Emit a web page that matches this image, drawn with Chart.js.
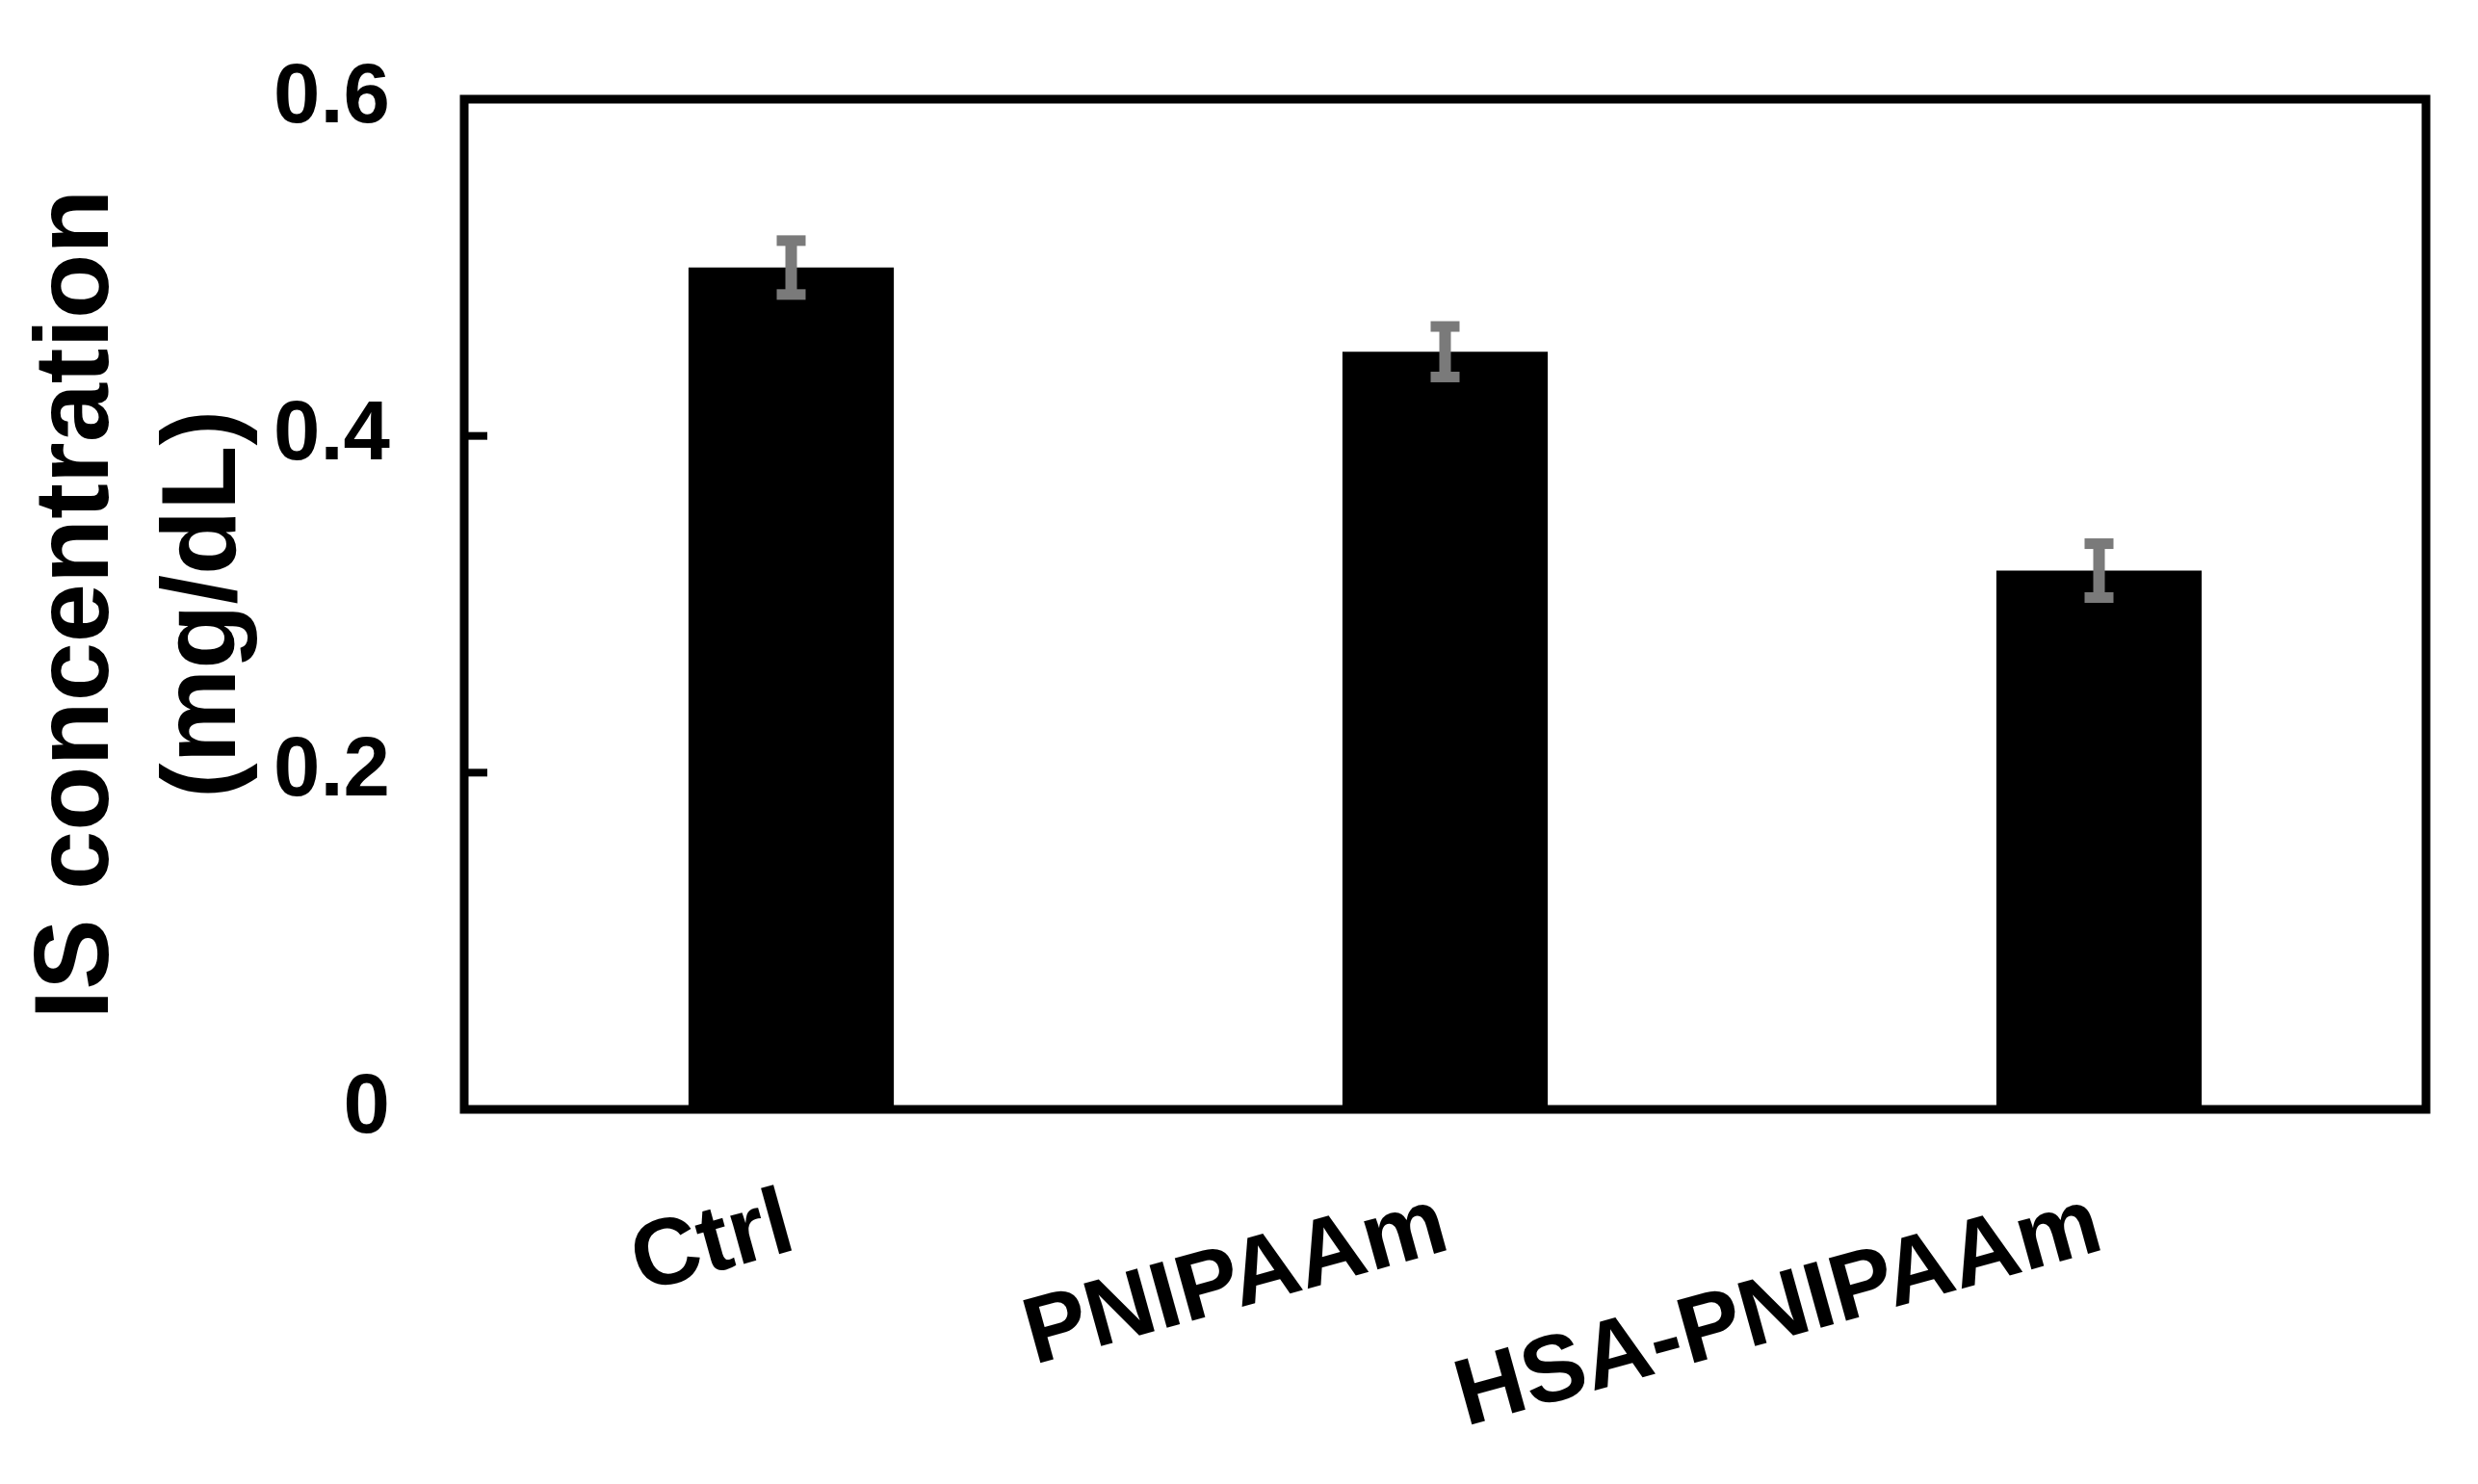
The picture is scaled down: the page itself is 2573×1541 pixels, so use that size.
<!DOCTYPE html>
<html>
<head>
<meta charset="utf-8">
<script src="https://cdn.jsdelivr.net/npm/chart.js@4.4.1/dist/chart.umd.min.js"></script>
<style>
  html, body { margin: 0; padding: 0; background: #ffffff; }
  #wrap { width: 2573px; height: 1541px; }
</style>
</head>
<body>
<div id="wrap"><canvas id="c" width="2573" height="1541"></canvas></div>
<script>
// ---- data ----
const categories = ['Ctrl', 'PNIPAAm', 'HSA-PNIPAAm'];
const values = [0.50, 0.45, 0.32];
const errors = [0.016, 0.015, 0.016];
const yTicks = [0, 0.2, 0.4, 0.6];
const yTitle = ['IS concentration', '(mg/dL)'];

const FONT = '"Liberation Sans", Arial, sans-serif';

const framePlugin = {
  id: 'frame',
  afterDatasetsDraw(chart) {
    const {ctx, chartArea: a, scales} = chart;
    const y = scales.y;
    ctx.save();
    // error bars
    const meta = chart.getDatasetMeta(0);
    ctx.fillStyle = '#7a7a7a';
    meta.data.forEach((bar, i) => {
      const cx = bar.x;
      const yHi = y.getPixelForValue(values[i] + errors[i]);
      const yLo = y.getPixelForValue(values[i] - errors[i]);
      const capW = 30, capH = 11, stemW = 12;
      ctx.fillRect(cx - stemW / 2, yHi, stemW, yLo - yHi);
      ctx.fillRect(cx - capW / 2, yHi - capH / 2, capW, capH);
      ctx.fillRect(cx - capW / 2, yLo - capH / 2, capW, capH);
    });
    // inside ticks
    ctx.strokeStyle = '#000';
    ctx.lineWidth = 8;
    yTicks.forEach(v => {
      const py = y.getPixelForValue(v);
      ctx.beginPath();
      ctx.moveTo(a.left, py);
      ctx.lineTo(a.left + 24, py);
      ctx.stroke();
    });
    // frame
    ctx.lineWidth = 9;
    ctx.lineJoin = 'miter';
    ctx.strokeRect(a.left, a.top, a.right - a.left, a.bottom - a.top);
    ctx.restore();
  }
};

new Chart(document.getElementById('c'), {
  type: 'bar',
  data: {
    labels: categories,
    datasets: [{
      data: values,
      backgroundColor: '#000000',
      borderWidth: 0,
      barPercentage: 0.314,
      categoryPercentage: 1.0
    }]
  },
  options: {
    responsive: false,
    animation: false,
    devicePixelRatio: 1,
    layout: { padding: { left: 0, right: 54, top: 103, bottom: 0 } },
    plugins: { legend: { display: false }, tooltip: { enabled: false }, title: { display: false } },
    scales: {
      x: {
        grid: { display: false, drawTicks: false },
        border: { display: false },
        ticks: {
          color: '#000',
          font: { family: FONT, size: 98, weight: 'bold' },
          minRotation: 15.5,
          maxRotation: 15.5,
          autoSkip: false,
          padding: 62
        },
        afterFit(scale) { scale.height = 389; scale.paddingLeft = 0; scale.paddingRight = 0; }
      },
      y: {
        min: 0,
        max: 0.6,
        grid: { display: false, drawTicks: false },
        border: { display: false },
        afterBuildTicks(scale) { scale.ticks = yTicks.map(v => ({ value: v })); },
        ticks: {
          color: '#000',
          font: { family: FONT, size: 87, weight: 'bold' },
          padding: 77
        },
        title: {
          display: true,
          text: yTitle,
          color: '#000',
          font: { family: FONT, size: 110, weight: 'bold', lineHeight: 1.2 },
          padding: { top: 16, bottom: 0 }
        },
        afterFit(scale) { scale.width = 482; scale.paddingTop = 0; scale.paddingBottom = 0; }
      }
    }
  },
  plugins: [framePlugin]
});
</script>
</body>
</html>
